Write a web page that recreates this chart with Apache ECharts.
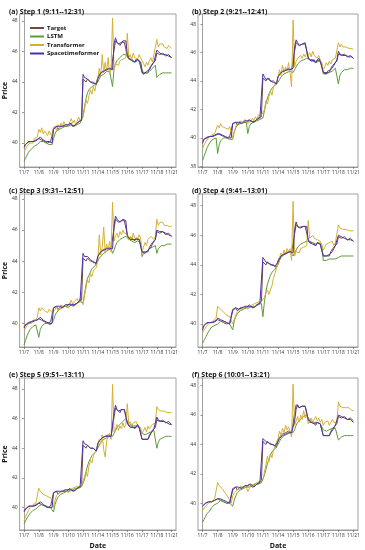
<!DOCTYPE html>
<html><head><meta charset="utf-8">
<script src="https://cdn.jsdelivr.net/npm/echarts@6/dist/echarts.min.js"></script>
<style>html,body{margin:0;padding:0;background:#fff}#c{width:365px;height:550px}</style>
</head><body><div id="c"></div><script>
const dateLabels = ['11/7','11/8','11/9','11/10','11/11','11/14','11/15','11/16','11/17','11/18','11/21'];
const seriesNames = ['Target','LSTM','Transformer','Spacetimeformer'];
const panelTitles = ['(a) Step 1 (9:11--12:31)','(b) Step 2 (9:21--12:41)','(c) Step 3 (9:31--12:51)','(d) Step 4 (9:41--13:01)','(e) Step 5 (9:51--13:11)','(f) Step 6 (10:01--13:21)'];
const yTickValues = [38,40,42,44,46,48];

const target = [
39.8,39.9,40.0,40.0,40.1,40.1,40.1,40.1,40.2,40.2,
40.3,40.3,40.2,40.2,40.1,40.1,40.0,40.0,40.1,40.0,
41.0,41.0,41.1,40.9,41.0,41.1,41.0,41.1,41.2,41.1,
41.2,41.3,41.2,41.1,41.1,41.2,41.3,41.4,41.4,41.5,
44.2,44.1,44.0,44.2,44.1,44.0,43.9,44.0,43.9,43.8,
44.3,44.5,44.6,44.7,44.6,44.8,44.8,44.9,44.8,44.8,
44.8,46.1,46.7,46.6,46.5,46.4,46.6,46.7,46.6,46.6,
45.7,45.5,45.4,45.5,45.4,45.3,45.5,45.6,45.4,45.3,
44.6,44.5,44.6,44.7,44.6,44.9,45.0,45.2,45.3,45.4,
45.9,45.9,45.8,45.8,45.9,45.8,45.7,45.7,45.8,45.7,
45.6];

const stfA = [
39.7,39.9,40.0,40.1,40.1,40.1,40.1,40.1,40.2,40.2,
40.3,40.4,40.3,40.2,40.2,40.1,40.0,40.1,40.0,40.0,
40.9,41.0,41.1,41.0,41.1,41.0,41.1,41.1,41.2,41.2,
41.2,41.3,41.3,41.1,41.2,41.2,41.3,41.4,41.4,41.5,
44.5,44.3,44.2,44.2,44.3,44.0,44.0,43.9,44.0,43.9,
44.2,44.4,44.6,44.6,44.7,44.7,44.8,44.8,44.9,44.8,
44.8,46.5,46.9,46.6,46.6,46.4,46.5,46.7,46.6,46.7,
45.8,45.6,45.5,45.4,45.5,45.3,45.4,45.5,45.5,45.3,
44.7,44.5,44.5,44.7,44.7,44.8,45.0,45.1,45.3,45.4,
46.1,46.0,45.9,45.9,45.8,45.8,45.8,45.7,45.7,45.7,
45.6];
const lstmA = [
38.8,39.0,39.2,39.4,39.5,39.6,39.7,39.8,39.9,39.9,
40.0,40.1,40.1,40.1,40.0,40.0,40.0,39.9,39.9,39.9,
40.3,40.6,40.8,40.9,40.9,41.0,41.0,41.0,41.1,41.1,
41.1,41.2,41.2,41.1,41.1,41.2,41.2,41.3,41.3,41.4,
41.8,42.4,42.9,43.3,43.5,43.6,43.7,43.8,43.8,43.8,
44.0,44.2,44.4,44.5,44.5,44.6,44.7,44.7,44.7,44.7,
43.7,44.9,45.2,45.4,45.5,45.6,45.7,45.8,45.8,45.8,
45.7,45.5,45.4,45.4,45.3,45.3,45.4,45.4,45.3,45.3,
44.8,44.6,44.6,44.6,44.6,44.7,44.8,44.9,45.0,45.1,
44.3,44.4,44.5,44.5,44.6,44.6,44.6,44.6,44.6,44.6,
44.6];
const transA = [
39.4,39.6,39.8,39.7,40.0,40.1,40.0,40.3,40.2,40.4,
40.9,40.7,41.0,40.6,40.8,40.7,40.5,40.8,40.6,40.4,
40.9,41.1,40.8,41.2,41.0,41.3,41.1,41.4,41.2,41.3,
41.1,41.4,41.6,41.3,41.5,41.2,41.4,41.7,41.5,41.6,
41.7,42.2,42.8,42.6,43.1,43.5,43.2,43.7,43.4,44.0,
44.3,44.9,44.4,45.8,44.6,45.3,44.7,45.6,44.5,44.9,
48.2,44.8,45.2,45.3,45.1,45.4,45.3,45.5,45.4,45.6,
47.2,45.6,45.8,45.5,45.9,45.6,45.7,45.5,45.8,45.6,
45.4,45.2,45.0,45.3,45.1,45.4,45.6,45.3,45.8,45.9,
46.8,46.3,46.5,46.4,46.5,46.3,46.4,46.2,46.4,46.3,
46.2];

const stfB = [
39.6,39.9,40.0,40.0,40.1,40.1,40.1,40.1,40.1,40.2,
40.3,40.3,40.3,40.2,40.1,40.1,40.0,40.0,40.1,40.0,
41.0,40.9,41.1,41.0,41.1,41.1,41.0,41.1,41.2,41.1,
41.2,41.3,41.2,41.2,41.1,41.2,41.3,41.3,41.4,41.5,
44.5,44.3,44.1,44.2,44.2,44.0,43.9,43.9,44.0,43.8,
44.3,44.4,44.6,44.7,44.7,44.7,44.8,44.9,44.8,44.8,
44.9,46.4,46.9,46.7,46.5,46.5,46.6,46.6,46.7,46.6,
45.6,45.6,45.4,45.4,45.5,45.3,45.4,45.6,45.4,45.3,
44.6,44.6,44.5,44.7,44.6,44.8,44.9,45.1,45.3,45.5,
46.1,45.9,45.9,45.8,45.9,45.8,45.7,45.7,45.7,45.7,
45.6];
const lstmB = [
38.4,38.7,39.0,39.3,39.5,39.7,39.8,39.9,39.9,40.0,
38.9,39.5,39.8,39.9,40.0,40.0,40.0,39.9,39.9,39.9,
39.9,40.4,40.7,40.9,40.9,41.0,41.0,41.1,41.1,41.1,
40.3,40.8,41.0,41.1,41.1,41.2,41.2,41.3,41.3,41.4,
41.4,41.9,42.4,42.8,43.1,43.3,43.5,43.6,43.7,43.8,
43.9,44.1,44.3,44.4,44.5,44.5,44.6,44.6,44.7,44.7,
44.6,44.8,45.0,45.2,45.3,45.4,45.5,45.5,45.6,45.6,
45.6,45.5,45.5,45.4,45.4,45.3,45.4,45.4,45.3,45.3,
44.5,44.4,44.5,44.6,44.6,44.7,44.7,44.8,44.9,45.0,
43.8,44.4,44.6,44.7,44.8,44.8,44.8,44.9,44.9,44.9,
44.9];
const transB = [
39.2,39.5,39.7,39.8,40.0,40.1,40.2,40.1,40.3,40.4,
40.9,40.7,41.0,40.8,40.9,40.7,40.8,40.6,40.8,40.7,
40.0,40.4,40.8,41.0,40.9,41.2,41.0,41.1,41.3,41.2,
41.0,41.3,41.1,41.4,41.2,41.5,41.3,41.6,41.5,41.6,
41.6,42.0,42.6,42.4,42.9,43.3,43.0,43.6,43.5,43.9,
44.3,44.8,44.4,45.1,44.6,45.0,44.7,45.3,44.6,43.6,
48.3,45.0,45.4,45.6,45.5,45.8,45.6,45.9,45.7,46.0,
45.8,46.0,45.7,46.1,45.8,45.9,45.6,45.8,45.5,45.6,
44.8,45.0,45.3,45.1,45.4,45.2,45.5,45.4,45.6,45.5,
46.7,46.4,46.6,46.4,46.5,46.4,46.5,46.3,46.4,46.3,
46.2];

const stfC = [
39.7,39.9,40.0,40.0,40.1,40.1,40.1,40.2,40.2,40.2,
40.3,40.4,40.3,40.2,40.1,40.1,40.0,40.0,40.0,40.0,
41.0,41.0,41.1,41.0,41.1,41.1,41.0,41.1,41.2,41.2,
41.2,41.3,41.2,41.1,41.2,41.2,41.3,41.4,41.5,41.6,
44.5,44.3,44.2,44.3,44.2,44.1,44.0,43.9,44.0,43.9,
44.3,44.4,44.6,44.7,44.7,44.8,44.8,44.8,44.8,44.8,
44.8,46.3,46.9,46.7,46.6,46.5,46.6,46.7,46.7,46.6,
45.6,45.5,45.4,45.5,45.4,45.3,45.4,45.5,45.4,45.3,
44.6,44.6,44.5,44.6,44.7,44.8,44.9,45.1,45.2,45.4,
46.0,45.9,45.9,45.8,45.9,45.8,45.8,45.7,45.7,45.7,
45.6];
const lstmC = [
38.6,38.9,39.2,39.4,39.6,39.7,39.8,39.9,39.9,40.0,
39.1,39.6,39.8,39.9,40.0,40.0,40.0,40.0,39.9,39.9,
40.2,40.5,40.7,40.8,40.9,41.0,41.0,41.0,41.1,41.1,
41.0,41.1,41.2,41.2,41.2,41.3,41.3,41.3,41.4,41.4,
41.3,41.9,42.5,42.9,43.1,43.3,43.5,43.6,43.7,43.8,
44.0,44.2,44.3,44.4,44.5,44.6,44.6,44.7,44.8,44.8,
44.5,44.7,45.0,45.2,45.3,45.4,45.5,45.5,45.6,45.6,
45.5,45.4,45.4,45.3,45.3,45.2,45.3,45.3,45.3,45.2,
44.3,44.5,44.6,44.6,44.7,44.8,44.8,44.9,45.0,45.0,
44.5,44.8,44.9,45.0,45.0,45.0,45.1,45.1,45.1,45.1,
45.1];
const transC = [
39.5,39.7,39.8,40.0,40.1,40.0,40.2,40.3,40.2,40.4,
41.0,40.8,41.0,40.9,40.8,40.9,40.7,40.9,40.8,40.7,
40.6,40.9,41.1,40.8,41.0,41.2,41.0,41.1,41.2,41.1,
41.0,41.3,41.5,41.2,41.4,41.3,41.6,41.4,41.6,41.7,
41.2,41.8,42.3,42.8,42.6,43.2,43.0,43.4,43.3,43.6,
44.0,45.7,44.4,44.9,46.2,44.5,45.1,44.7,45.3,44.6,
47.8,45.3,45.6,45.8,45.5,45.9,45.7,46.0,45.8,45.9,
45.7,45.4,45.6,45.3,45.8,45.5,45.6,45.4,45.7,45.5,
44.6,44.9,45.2,45.0,45.4,45.3,45.6,45.5,45.4,45.6,
46.7,46.3,46.5,46.4,46.5,46.3,46.4,46.3,46.4,46.2,
46.3];

const stfD = [
39.6,39.9,40.0,40.1,40.1,40.1,40.1,40.1,40.2,40.2,
40.4,40.3,40.3,40.2,40.2,40.1,40.1,40.0,40.0,40.0,
40.9,41.0,41.1,41.0,41.0,41.1,41.1,41.1,41.2,41.1,
41.2,41.3,41.2,41.2,41.1,41.2,41.3,41.4,41.4,41.5,
44.5,44.4,44.2,44.2,44.1,44.0,44.0,43.9,43.9,43.8,
44.2,44.4,44.6,44.6,44.7,44.8,44.8,44.9,44.9,44.8,
44.8,46.4,46.9,46.6,46.5,46.5,46.6,46.6,46.6,46.6,
45.7,45.5,45.5,45.4,45.4,45.3,45.5,45.5,45.4,45.3,
44.6,44.5,44.6,44.6,44.7,44.8,44.9,45.1,45.3,45.4,
46.0,46.0,45.9,45.8,45.8,45.8,45.7,45.7,45.7,45.6,
45.6];
const lstmD = [
38.7,38.9,39.1,39.3,39.5,39.6,39.8,39.9,39.9,40.0,
40.0,40.1,40.2,40.2,40.2,40.1,40.1,40.0,40.0,40.0,
39.6,40.2,40.5,40.7,40.8,40.9,41.0,41.0,41.1,41.1,
41.0,41.1,41.1,41.2,41.2,41.2,41.3,41.3,41.3,41.4,
40.5,41.5,42.2,42.7,43.0,43.3,43.5,43.6,43.7,43.8,
44.0,44.3,44.5,44.6,44.7,44.8,44.8,44.9,44.9,44.9,
44.6,44.8,45.0,45.2,45.3,45.4,45.5,45.5,45.6,45.6,
45.7,45.6,45.6,45.5,45.5,45.4,45.5,45.5,45.4,45.4,
44.3,44.3,44.3,44.4,44.4,44.4,44.4,44.4,44.4,44.4,
44.5,44.6,44.6,44.6,44.6,44.6,44.6,44.6,44.6,44.6,
44.6];
const transD = [
39.4,39.6,39.7,39.9,40.0,40.1,40.2,40.2,40.3,40.4,
41.2,41.1,41.0,40.9,40.8,40.7,40.6,40.6,40.5,40.4,
40.0,40.3,40.6,40.8,40.9,41.0,41.0,41.1,41.1,41.2,
41.0,41.2,41.1,41.3,41.2,41.4,41.3,41.5,41.4,41.5,
41.5,41.8,42.1,42.3,42.0,42.1,42.6,43.1,43.4,43.8,
44.1,44.5,44.8,44.6,45.0,44.7,45.1,44.9,45.1,44.3,
48.3,44.6,44.9,45.0,44.8,45.1,45.0,45.2,45.1,45.3,
47.0,45.8,45.9,46.0,45.8,45.9,45.7,45.8,45.6,45.7,
45.0,45.2,45.4,45.3,45.5,45.4,45.6,45.3,45.5,45.6,
46.7,46.5,46.6,46.4,46.5,46.4,46.4,46.3,46.4,46.3,
46.3];

const stfE = [
39.7,39.9,40.0,40.1,40.1,40.1,40.2,40.1,40.2,40.2,
40.3,40.4,40.3,40.2,40.1,40.1,40.0,40.0,40.1,40.0,
41.0,41.0,41.1,41.0,41.1,41.0,41.1,41.1,41.2,41.1,
41.2,41.3,41.2,41.2,41.1,41.2,41.3,41.4,41.4,41.5,
44.5,44.3,44.2,44.2,44.3,44.0,43.9,44.0,44.0,43.8,
44.3,44.5,44.6,44.7,44.7,44.8,44.8,44.8,44.9,44.8,
44.8,46.4,46.9,46.6,46.5,46.4,46.6,46.6,46.6,46.6,
45.7,45.6,45.4,45.5,45.4,45.3,45.4,45.6,45.4,45.3,
44.6,44.5,44.6,44.7,44.6,44.8,45.0,45.1,45.3,45.4,
46.1,45.9,45.9,45.8,45.9,45.8,45.8,45.7,45.7,45.6,
45.6];
const lstmE = [
38.9,39.1,39.3,39.4,39.6,39.7,39.8,39.9,39.9,40.0,
40.1,40.2,40.2,40.2,40.1,40.1,40.0,40.0,40.0,39.9,
39.7,40.2,40.5,40.7,40.8,40.9,41.0,41.0,41.1,41.1,
41.0,41.1,41.1,41.2,41.2,41.3,41.3,41.3,41.4,41.4,
41.5,41.9,42.4,42.8,43.1,43.3,43.5,43.6,43.7,43.8,
44.0,44.2,44.4,44.5,44.6,44.7,44.7,44.8,44.8,44.8,
44.8,45.0,45.2,45.4,45.5,45.6,45.7,45.8,45.9,46.0,
45.8,45.7,45.6,45.6,45.5,45.5,45.5,45.5,45.4,45.4,
45.0,44.9,44.9,45.0,45.0,45.1,45.1,45.2,45.2,45.2,
44.0,44.4,44.6,44.6,44.7,44.7,44.8,44.8,44.8,44.8,
44.8];
const transE = [
39.1,39.4,39.6,39.8,40.0,40.0,40.2,40.2,40.3,40.4,
41.3,41.1,41.0,40.9,40.8,40.8,40.7,40.7,40.6,40.6,
40.0,40.5,40.8,40.9,41.0,40.9,41.1,41.0,41.2,41.1,
41.0,41.2,41.1,41.3,41.2,41.4,41.3,41.4,41.5,41.5,
41.6,42.1,42.4,42.1,42.8,43.2,43.0,43.5,43.7,43.9,
44.2,44.6,44.3,44.9,43.9,43.4,44.5,44.8,45.0,44.6,
48.3,45.1,45.3,45.6,45.2,45.5,45.3,45.7,45.4,45.6,
47.0,45.6,45.8,45.5,45.7,45.6,45.8,45.5,45.6,45.4,
45.0,45.2,45.4,45.1,45.5,45.3,45.4,45.6,45.5,45.7,
46.8,46.6,46.7,46.5,46.6,46.5,46.5,46.4,46.5,46.4,
46.4];

const stfF = [
39.8,39.9,40.0,40.0,40.1,40.1,40.1,40.2,40.2,40.2,
40.3,40.3,40.3,40.2,40.2,40.1,40.1,40.0,40.0,40.0,
40.9,41.0,41.1,41.0,41.1,41.1,41.0,41.1,41.2,41.2,
41.2,41.3,41.3,41.2,41.1,41.2,41.3,41.4,41.4,41.5,
44.4,44.3,44.2,44.2,44.1,44.0,44.0,43.9,43.9,43.8,
44.2,44.4,44.5,44.6,44.7,44.7,44.8,44.8,44.9,44.8,
44.8,45.6,46.4,46.7,46.5,46.5,46.6,46.6,46.6,46.5,
45.7,45.6,45.5,45.5,45.4,45.3,45.5,45.5,45.4,45.3,
44.6,44.5,44.6,44.7,44.6,44.8,44.9,45.1,45.3,45.4,
46.0,45.9,45.9,45.8,45.8,45.8,45.7,45.7,45.7,45.6,
45.5];
const lstmF = [
38.7,38.9,39.1,39.3,39.4,39.5,39.7,39.8,39.9,40.0,
40.0,40.1,40.2,40.2,40.1,40.1,40.0,40.0,40.0,39.9,
39.8,40.2,40.5,40.7,40.8,40.9,41.0,41.0,41.1,41.1,
41.0,41.1,41.1,41.2,41.2,41.3,41.3,41.3,41.4,41.4,
41.5,41.9,42.3,42.7,43.0,43.3,43.5,43.6,43.7,43.8,
44.0,44.2,44.4,44.5,44.6,44.6,44.7,44.7,44.8,44.8,
44.8,45.0,45.3,45.5,45.6,45.7,45.8,45.9,45.9,46.0,
45.8,45.7,45.6,45.6,45.5,45.5,45.5,45.4,45.4,45.4,
45.0,44.9,44.9,45.0,45.0,45.0,45.1,45.1,45.1,45.1,
44.3,44.4,44.5,44.5,44.6,44.6,44.6,44.6,44.6,44.6,
44.6];
const transF = [
39.5,39.6,39.8,39.9,40.0,40.1,40.1,40.2,40.3,40.3,
41.4,41.2,41.1,41.0,40.9,40.7,40.6,40.4,40.2,40.0,
40.5,40.7,40.6,40.9,40.8,41.0,40.9,41.1,41.0,41.1,
40.8,41.0,41.2,41.1,41.3,41.2,41.4,41.3,41.5,41.6,
41.6,42.1,42.6,43.2,42.8,43.4,43.1,43.6,43.9,44.2,
44.4,44.9,44.6,45.1,44.8,45.3,45.0,45.2,44.9,44.5,
48.1,45.3,45.6,45.9,45.5,46.0,45.7,46.3,45.8,46.0,
45.4,45.6,45.8,45.5,45.7,45.9,45.6,45.8,45.5,45.7,
45.3,45.5,45.4,45.6,45.3,45.5,45.7,45.5,45.6,45.5,
46.9,46.6,46.7,46.5,46.6,46.5,46.4,46.5,46.4,46.3,
46.3];

const panelRanges = [[38.43,48.46],[37.95,48.72],[38.48,48.32],[38.45,48.79],[38.49,48.73],[38.18,48.52]];
const panelLstm = [lstmA,lstmB,lstmC,lstmD,lstmE,lstmF];
const panelTrans = [transA,transB,transC,transD,transE,transF];
const panelStf = [stfA,stfB,stfC,stfD,stfE,stfF];

// ---- layout / styling ----
const colors = ['#74483e','#5e9a3c','#d4b032','#4a31a8'];
const FONT = 'Open Sans';
const gridPos = [
  {left:15, top:14, width:161, height:153},
  {left:198, top:14, width:160, height:153},
  {left:15, top:194, width:161, height:153},
  {left:198, top:194, width:160, height:153},
  {left:15, top:378, width:161, height:154},
  {left:198, top:378, width:160, height:154}
];
const titleTop = [3,3,182,182,366,366];
const xTickIdx = dateLabels.map((d,i)=>i*10);

const chart = echarts.init(document.getElementById('c'), null, {renderer:'canvas'});
const grids=[], xAxes=[], yAxes=[], series=[], titles=[];
gridPos.forEach((g,i)=>{
  grids.push(Object.assign({show:true, borderColor:'#8a8a8a', borderWidth:0.8, containLabel:false}, g));
  titles.push({text:panelTitles[i], left: (i%2===0?4:187), top:titleTop[i],
    textStyle:{fontFamily:FONT, fontSize:7, fontWeight:'bold', color:'#111'}});
  const isBottom = i>=4, isLeft = i%2===0;
  xAxes.push({type:'value', gridIndex:i, min:-3, max:103,
    axisLine:{show:true, lineStyle:{color:'#8a8a8a', width:0.8}},
    axisTick:{show:true, length:2, customValues:xTickIdx, lineStyle:{color:'#555', width:0.6}},
    axisLabel:{customValues:xTickIdx, fontFamily:FONT, fontSize:4.8, color:'#333', margin:3,
      formatter:v=>dateLabels[Math.round(v/10)]||''},
    splitLine:{show:false},
    name: isBottom?'Date':'', nameLocation:'middle', nameGap:12,
    nameTextStyle:{fontFamily:FONT, fontSize:7, fontWeight:'bold', color:'#111'}
  });
  const [mn,mx] = panelRanges[i];
  const yt = yTickValues.filter(v=>v>=mn && v<=mx);
  yAxes.push({type:'value', gridIndex:i, min:mn, max:mx,
    axisLine:{show:true, lineStyle:{color:'#8a8a8a', width:0.8}},
    axisTick:{show:true, length:2, customValues:yt, lineStyle:{color:'#555', width:0.6}},
    axisLabel:{customValues:yt, fontFamily:FONT, fontSize:5, color:'#333', margin:2, formatter:v=>String(Math.round(v))},
    splitLine:{show:false},
    name: isLeft?'Price':'', nameLocation:'middle', nameGap:8, nameRotate:90,
    nameTextStyle:{fontFamily:FONT, fontSize:7, fontWeight:'bold', color:'#111'}
  });
  const dataSets = [target, panelLstm[i], panelTrans[i], panelStf[i]];
  dataSets.forEach((arr,k)=>{
    series.push({type:'line', name:seriesNames[k], xAxisIndex:i, yAxisIndex:i,
      data: arr.map((v,j)=>[j,v]), symbol:'none', silent:true,
      lineStyle:{color:colors[k], width:1.0}, itemStyle:{color:colors[k]}, z:2+k});
  });
});

chart.setOption({
  animation:false,
  color:colors,
  title:titles,
  legend:{show:true, orient:'vertical', left:25, top:20, itemWidth:14, itemHeight:2, itemGap:2.5,
    icon:'rect', data:seriesNames,
    textStyle:{fontFamily:FONT, fontSize:6, fontWeight:'bold', color:'#111', padding:[0,0,0,-2]}},
  grid:grids, xAxis:xAxes, yAxis:yAxes, series:series
});
</script></body></html>
